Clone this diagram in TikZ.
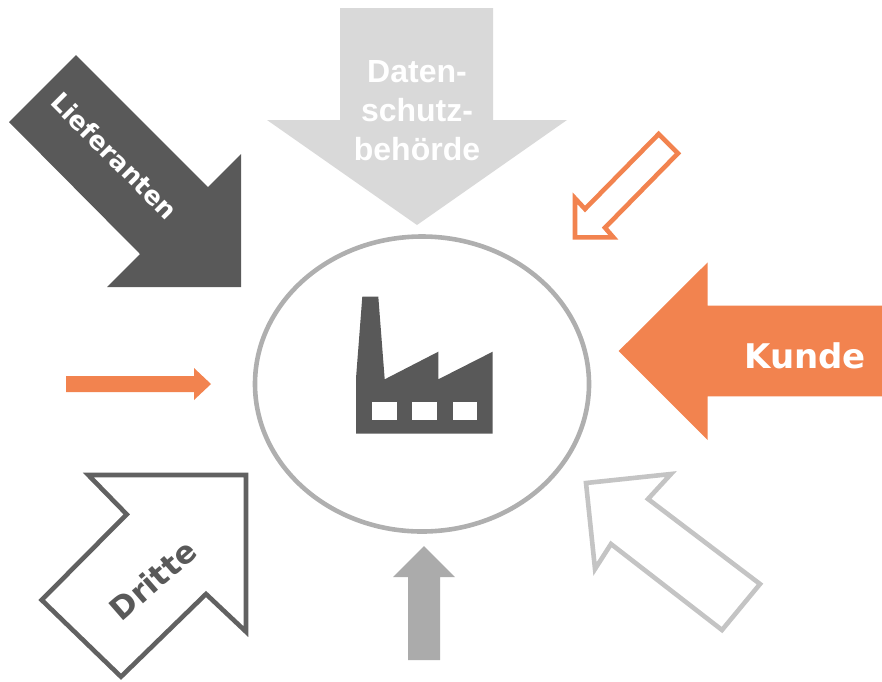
\documentclass[tikz,border=0pt]{standalone}
\usepackage{fontspec}
\setmainfont{DejaVu Sans}
\newfontfamily\arialbold[BoldFont=Liberation Sans Bold]{Liberation Sans}
\definecolor{darkgrey}{HTML}{595959}
\definecolor{orangeacc}{HTML}{F2834F}
\definecolor{lightfill}{HTML}{D9D9D9}
\definecolor{midfill}{HTML}{ABABAB}
\definecolor{lightline}{HTML}{C4C4C4}
\definecolor{ringline}{HTML}{AFAFAF}
\tikzset{
  darksolid/.style={fill=darkgrey,draw=none},
  orangesolid/.style={fill=orangeacc,draw=none},
  lightsolid/.style={fill=lightfill,draw=none},
  midsolid/.style={fill=midfill,draw=none},
  outlined/.style={draw=#1,line width=4.6pt,fill=white,miter limit=10,line join=miter},
  arrowlabel/.style={font=\bfseries,inner sep=0pt},
}
\begin{document}
\begin{tikzpicture}[x=1pt,y=-1pt]
\useasboundingbox (0,0) rectangle (882,681);
% Ring
\draw[ringline,line width=4.6pt] (422,384) ellipse [x radius=167,y radius=147.5];
% Factory
\fill[darkgrey] (362.3,296.7) -- (378.3,296.7) -- (384.7,379.3) -- (438.3,351.7) -- (438.3,379.3) -- (492.7,351.7) -- (492.7,433.7) -- (356,433.7) -- (356,378.3) -- cycle;
\fill[white] (372.3,401.7) rectangle (396.7,420.3);
\fill[white] (412.3,401.7) rectangle (436.7,420.3);
\fill[white] (453,401.7) rectangle (477.3,420.3);
% Lieferanten
\fill[darksolid] (76,55) -- (9,122) -- (140,254) -- (107,287) -- (241,287) -- (241,154) -- (208,187) -- cycle;
\node[arrowlabel,text=white,rotate=-45,font=\bfseries\fontsize{25.5}{30}\selectfont] (lieferanten) at (114.5,156) {Lieferanten};
% Datenschutz
\fill[lightsolid] (340,8) -- (493,8) -- (493,120) -- (567,120) -- (417,225) -- (267,120) -- (340,120) -- cycle;
\node[arrowlabel,text=white,align=center,font=\arialbold\bfseries\fontsize{32}{39}\selectfont] (daten) at (417,111) {Daten-\\schutz-\\behörde};
% Small outlined orange
\draw[outlined=orangeacc] (658.7,134) -- (678,153.3) -- (605,227.7) -- (613.3,237.3) -- (575,237.3) -- (575,198.3) -- (585,209) -- cycle;
% Kunde
\fill[orangesolid] (618.7,351) -- (707.7,262.3) -- (707.7,305.7) -- (882,305.7) -- (882,396.3) -- (707.7,396.3) -- (707.7,440) -- cycle;
\node[arrowlabel,text=white,font=\bfseries\fontsize{34}{36}\selectfont] (kunde) at (805,356) {Kunde};
% Small solid orange
\fill[orangesolid] (66,376) -- (194,376) -- (194,368) -- (211,384) -- (194,400) -- (194,392) -- (66,392) -- cycle;
% Dritte
\draw[outlined=darkgrey!95!white] (246,475) -- (88.3,475) -- (126.7,514.3) -- (41.7,600) -- (121,676.7) -- (206,594) -- (246,631.7) -- cycle;
\node[arrowlabel,text=darkgrey,rotate=41,font=\bfseries\fontsize{31}{36}\selectfont] (dritte) at (153,580) {Dritte};
% Bottom grey
\fill[midsolid] (408,660) -- (440,660) -- (440,577) -- (455,577) -- (424,546) -- (393,577) -- (408,577) -- cycle;
% Light outlined
\draw[outlined=lightline] (586,483) -- (671,474) -- (648,499) -- (760,584) -- (722,630) -- (611,544) -- (595,569) -- cycle;
\end{tikzpicture}
\end{document}
